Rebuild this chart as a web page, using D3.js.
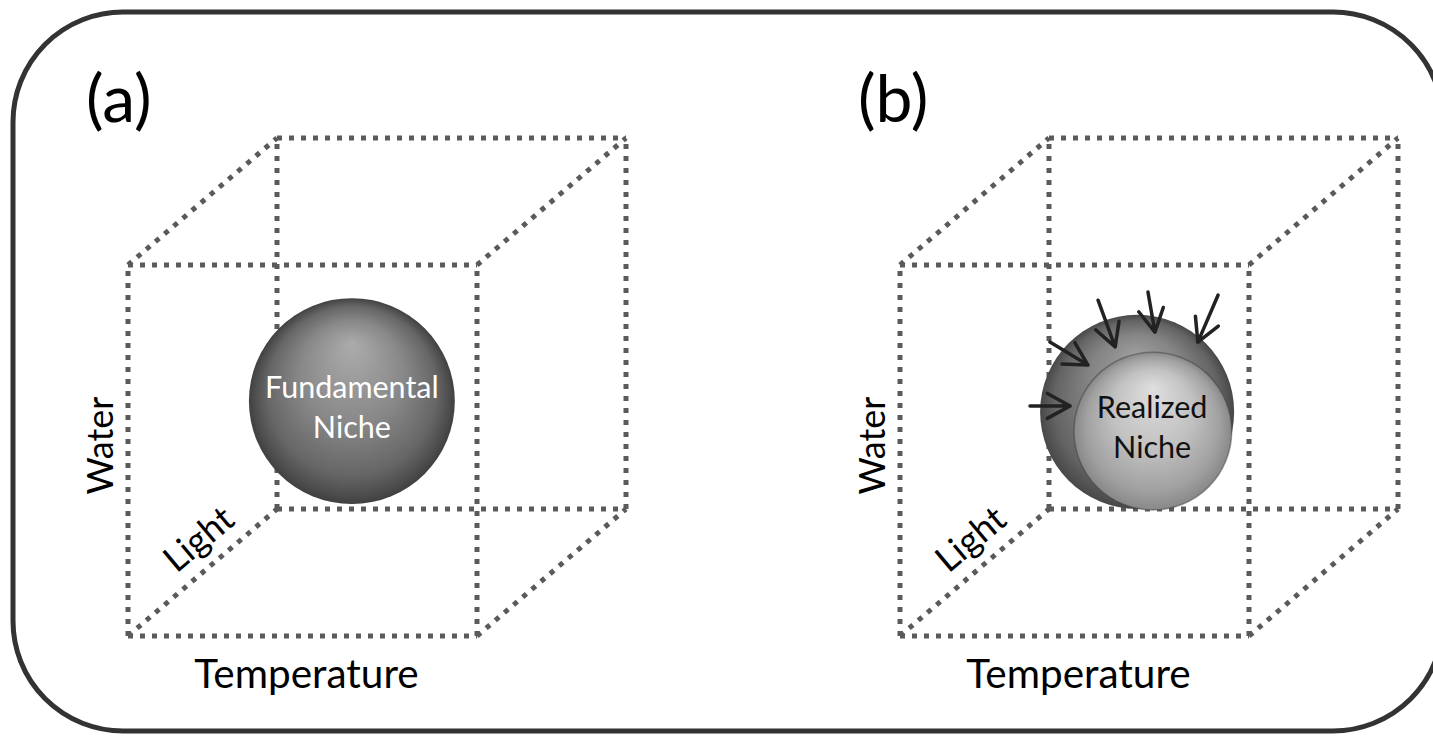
<!DOCTYPE html>
<html>
<head>
<meta charset="utf-8">
<script src="https://cdn.jsdelivr.net/npm/d3@7"></script>
<style>
  body { margin: 0; background: #fff; }
  text { font-family: Lato, "Open Sans", sans-serif; }
</style>
</head>
<body>
<svg width="1433" height="739"></svg>
<script>
// Define SVG dimensions
const width = 1433
const height = 739

// panel letters and axis names
const panels = ["(a)", "(b)"]
const axisX = "Temperature"
const axisY = "Water"
const axisZ = "Light"

// niche labels, placed in cube units (u = temperature, v = water, z = light depth)
const nicheLabels = [
  {lines: ["Fundamental", "Niche"], u: 0.428, v: 0.470, color: "#fff"},
  {lines: ["Realized", "Niche"], u: 0.509, v: 0.416, color: "#111"}
]

// spheres in cube units, r is a fraction of the cube width
const spheres = [
  [{u: 0.428, v: 0.462, z: 0.5, r: 0.295, fill: "sphA"}],
  [{u: 0.466, v: 0.433, z: 0.5, r: 0.278, fill: "sphOuter"},
   {u: 0.511, v: 0.381, z: 0.5, r: 0.226, fill: "sphInner"}]
]

// arrows squeezing the realized niche: [u0, v0, u1, v1] on the z = 0.5 plane
const arrows = [
  [0.159, 0.449, 0.274, 0.449],
  [0.216, 0.621, 0.325, 0.559],
  [0.354, 0.734, 0.403, 0.608],
  [0.497, 0.756, 0.517, 0.648],
  [0.698, 0.748, 0.640, 0.621]
]

const svg = d3.select("svg")

// gradients for the shaded balls
const defs = svg.append("defs")
function ball(id, fy, stops) {
  const g = defs.append("radialGradient")
    .attr("id", id)
    .attr("cx", "50%").attr("cy", "50%").attr("r", "50%")
    .attr("fx", "50%").attr("fy", fy)
  stops.forEach(s => g.append("stop").attr("offset", s[0]).attr("stop-color", s[1]))
}
ball("sphA", "22%", [[0, "#acacac"], [0.5, "#888"], [0.82, "#666"], [0.95, "#4c4c4c"], [1, "#404040"]])
ball("sphOuter", "20%", [[0, "#9e9e9e"], [0.5, "#848484"], [0.85, "#646464"], [1, "#484848"]])
ball("sphInner", "22%", [[0, "#dedede"], [0.5, "#c2c2c2"], [0.85, "#a0a0a0"], [1, "#888"]])

// panel offset and cube projection
const panelX = d3.scalePoint().domain(panels).range([0, 772])
const xs = d3.scaleLinear().domain([0, 1]).range([128, 477])
const ys = d3.scaleLinear().domain([0, 1]).range([636, 265])
const zx = d3.scaleLinear().domain([0, 1]).range([0, 149])
const zy = d3.scaleLinear().domain([0, 1]).range([0, -127])

function proj(u, v, z) {
  return [xs(u) + zx(z), ys(v) + zy(z)]
}

// outer rounded frame
svg.append("rect")
  .attr("x", 13).attr("y", 12)
  .attr("width", 1430).attr("height", 719)
  .attr("rx", 110).attr("ry", 110)
  .style("fill", "none")
  .style("stroke", "#333")
  .style("stroke-width", 5)

// cube edges: pairs of corners that differ in one coordinate
const corners = d3.cross(d3.cross([0, 1], [0, 1]), [0, 1]).map(d => [d[0][0], d[0][1], d[1]])
const edges = []
corners.forEach((a, i) => corners.forEach((b, j) => {
  if (j > i && d3.sum(a.map((c, k) => Math.abs(c - b[k]))) === 1) edges.push([a, b])
}))

panels.forEach((name, pi) => {
  const g = svg.append("g").attr("transform", "translate(" + panelX(name) + ",0)")

  g.selectAll("line.edge")
    .data(edges)
    .join("line")
    .attr("class", "edge")
    .attr("x1", d => proj(...d[0])[0])
    .attr("y1", d => proj(...d[0])[1])
    .attr("x2", d => proj(...d[1])[0])
    .attr("y2", d => proj(...d[1])[1])
    .style("stroke", "#5a5a5a")
    .style("stroke-width", 5)
    .style("stroke-dasharray", "5 7")

  // balls
  g.selectAll("circle")
    .data(spheres[pi])
    .join("circle")
    .attr("cx", d => proj(d.u, d.v, d.z)[0])
    .attr("cy", d => proj(d.u, d.v, d.z)[1])
    .attr("r", d => d.r * (xs(1) - xs(0)))
    .style("fill", d => "url(#" + d.fill + ")")
    .style("stroke", (d, i) => i > 0 ? "#3a3a3a" : "none")
    .style("stroke-opacity", 0.45)
    .style("stroke-width", 1.5)

  // niche label
  const lab = nicheLabels[pi]
  const lp = proj(lab.u, lab.v, 0.5)
  g.append("text")
    .attr("x", lp[0]).attr("y", lp[1])
    .attr("text-anchor", "middle")
    .style("font-size", "30.5px")
    .style("fill", lab.color)
    .selectAll("tspan")
    .data(lab.lines)
    .join("tspan")
    .attr("x", lp[0])
    .attr("dy", (d, i) => i ? 40 : 0)
    .text(d => d)

  // arrows only in panel b
  if (pi === 1) {
    const ag = g.append("g")
      .style("stroke", "#222")
      .style("stroke-width", 3.5)
      .style("fill", "none")
      .style("stroke-linecap", "round")
      .style("stroke-linejoin", "round")
    arrows.forEach(a => {
      const p0 = proj(a[0], a[1], 0.5)
      const p1 = proj(a[2], a[3], 0.5)
      const ang = Math.atan2(p1[1] - p0[1], p1[0] - p0[0])
      const len = 26, spread = 0.5
      const h1 = [p1[0] - len * Math.cos(ang - spread), p1[1] - len * Math.sin(ang - spread)]
      const h2 = [p1[0] - len * Math.cos(ang + spread), p1[1] - len * Math.sin(ang + spread)]
      ag.append("path")
        .attr("d", d3.line()([p0, p1]) + d3.line()([h1, p1, h2]))
    })
  }

  // panel letter
  g.append("text")
    .attr("x", 86).attr("y", 122)
    .style("font-size", "66px")
    .style("fill", "#000")
    .text(name)

  // axis names
  g.append("text")
    .attr("x", (xs(0) + xs(1)) / 2 + 4).attr("y", 688)
    .attr("text-anchor", "middle")
    .style("font-size", "40.5px")
    .style("fill", "#000")
    .text(axisX)

  g.append("text")
    .attr("transform", "translate(113," + (ys(0.5) - 5) + ") rotate(-90)")
    .attr("text-anchor", "middle")
    .style("font-size", "36px")
    .style("fill", "#000")
    .text(axisY)

  const zp = proj(0, 0, 0.5)
  g.append("text")
    .attr("transform", "translate(" + (zp[0] + 4) + "," + (zp[1] - 24) + ") rotate(-40)")
    .attr("text-anchor", "middle")
    .style("font-size", "36px")
    .style("fill", "#000")
    .text(axisZ)
})
</script>
</body>
</html>
